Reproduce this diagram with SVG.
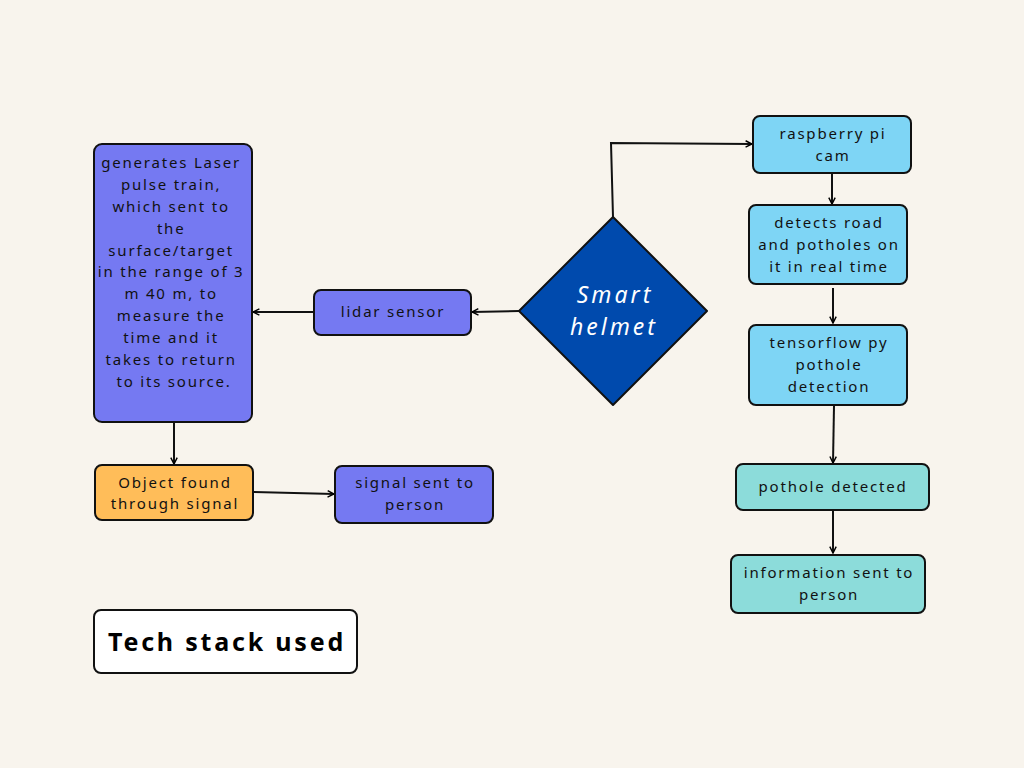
<svg xmlns="http://www.w3.org/2000/svg" width="1024" height="768" viewBox="0 0 1024 768">
<defs>
<marker id="ah" viewBox="0 0 10 10" refX="9" refY="5" markerWidth="8" markerHeight="8" markerUnits="userSpaceOnUse" orient="auto">
<path d="M1,1 L9,5 L1,9" fill="none" stroke="#000" stroke-width="1.8"/>
</marker>
<style>
.box{stroke:#111;stroke-width:2}
.t{font-family:"Noto Sans","Liberation Sans",sans-serif;font-size:15px;letter-spacing:1.8px;fill:#111;text-anchor:middle;dominant-baseline:central}
.c{fill:none;stroke:#111;stroke-width:2;marker-end:url(#ah)}
.h{font-family:"Noto Sans","Liberation Sans",sans-serif;font-size:23px;font-style:italic;letter-spacing:3px;fill:#fff;text-anchor:middle;dominant-baseline:central}
.purple{fill:#7579f2}
.sky{fill:#7ed5f5}
.teal{fill:#8cdcda}
.orange{fill:#ffbd59}
</style>
</defs>
<rect width="1024" height="768" fill="#f8f4ed"/>
<g id="connectors">
<path class="c" d="M613,217 L611,143 L752,144"/>
<path class="c" d="M832,174 L832,204"/>
<path class="c" d="M833,288 L833,323"/>
<path class="c" d="M834,406 L833,463"/>
<path class="c" d="M833,511 L833,553"/>
<path class="c" d="M519,311 L472,312"/>
<path class="c" d="M314,312 L253,312"/>
<path class="c" d="M174,423 L174,464"/>
<path class="c" d="M254,492 L334,494"/>
</g>
<g id="laser">
<rect class="box purple" x="94" y="144" width="158" height="278" rx="8"/>
<text class="t">
<tspan x="174" y="162">generates Laser</tspan>
<tspan x="174" y="184">pulse train,</tspan>
<tspan x="174" y="206">which sent to</tspan>
<tspan x="174" y="228">the</tspan>
<tspan x="174" y="250">surface/target</tspan>
<tspan x="174" y="271">in the range of 3</tspan>
<tspan x="174" y="293">m 40 m, to</tspan>
<tspan x="174" y="315">measure the</tspan>
<tspan x="174" y="337">time and it</tspan>
<tspan x="174" y="359">takes to return</tspan>
<tspan x="174" y="381">to its source.</tspan>
</text>
</g>
<g id="lidar">
<rect class="box purple" x="314" y="290" width="157" height="45" rx="7"/>
<text class="t" x="393" y="311">lidar sensor</text>
</g>
<g id="helmet">
<path d="M613,217 L707,311 L613,405 L519,311 Z" fill="#004aad" stroke="#111" stroke-width="2" stroke-linejoin="round"/>
<text class="h" x="615" y="294">Smart</text>
<text class="h" x="614" y="326">helmet</text>
</g>
<g id="picam">
<rect class="box sky" x="753" y="116" width="158" height="57" rx="7"/>
<text class="t"><tspan x="833" y="133">raspberry pi</tspan><tspan x="833" y="155">cam</tspan></text>
</g>
<g id="detects">
<rect class="box sky" x="749" y="205" width="158" height="79" rx="7"/>
<text class="t"><tspan x="829" y="222">detects road</tspan><tspan x="829" y="244">and potholes on</tspan><tspan x="829" y="266">it in real time</tspan></text>
</g>
<g id="tensorflow">
<rect class="box sky" x="749" y="325" width="158" height="80" rx="7"/>
<text class="t"><tspan x="829" y="342">tensorflow py</tspan><tspan x="829" y="364">pothole</tspan><tspan x="829" y="386">detection</tspan></text>
</g>
<g id="detected">
<rect class="box teal" x="736" y="464" width="193" height="46" rx="7"/>
<text class="t" x="833" y="486">pothole detected</text>
</g>
<g id="info">
<rect class="box teal" x="731" y="555" width="194" height="58" rx="7"/>
<text class="t"><tspan x="829" y="572">information sent to</tspan><tspan x="829" y="594">person</tspan></text>
</g>
<g id="object">
<rect class="box orange" x="95" y="465" width="158" height="55" rx="7"/>
<text class="t"><tspan x="175" y="482">Object found</tspan><tspan x="175" y="503">through signal</tspan></text>
</g>
<g id="signal">
<rect class="box purple" x="335" y="466" width="158" height="57" rx="7"/>
<text class="t"><tspan x="415" y="482">signal sent to</tspan><tspan x="415" y="504">person</tspan></text>
</g>
<g id="techstack">
<rect x="94" y="610" width="263" height="63" rx="7" fill="#fff" stroke="#111" stroke-width="2"/>
<text x="227" y="641" font-family="Noto Sans, Liberation Sans, sans-serif" font-size="25" font-weight="bold" letter-spacing="2.8" fill="#000" text-anchor="middle" dominant-baseline="central">Tech stack used</text>
</g>
</svg>
